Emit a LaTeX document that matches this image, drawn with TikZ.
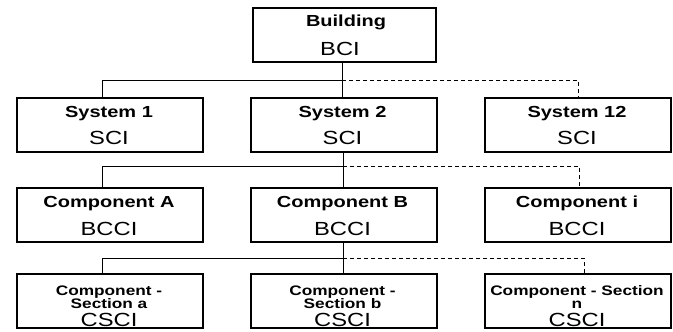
\documentclass[tikz,border=0pt]{standalone}
\usepackage{fontspec}
\setmainfont[FakeStretch=1.25]{Liberation Sans}
\begin{document}
\begin{tikzpicture}[x=1pt,y=-1pt,
  box/.style={draw,line width=1.6pt,minimum width=186pt,minimum height=54pt,inner sep=0pt,anchor=north west},
  conn/.style={line width=0.8pt},
  dconn/.style={line width=0.8pt,dashed,dash pattern=on 4pt off 3pt},
  tA/.style={anchor=base,inner sep=0pt,font=\fontsize{16}{16}\selectfont\bfseries},
  tB/.style={anchor=base,inner sep=0pt,font=\fontsize{19}{19}\selectfont},
  tS/.style={anchor=base,inner sep=0pt,font=\fontsize{13.8}{13.8}\selectfont\bfseries}]
\useasboundingbox (0,0) rectangle (673,332);
% boxes
\node[box,minimum width=183pt] (bld) at (252,7) {};
\node[box] (s1) at (16,97) {};
\node[box] (s2) at (250,97) {};
\node[box] (s12) at (484,97) {};
\node[box] (ca) at (16,187) {};
\node[box] (cb) at (250,187) {};
\node[box] (ci) at (484,187) {};
\node[box] (sa) at (16,273) {};
\node[box] (sb) at (250,273) {};
\node[box] (sn) at (484,273) {};
% texts
\node[tA] (bldt) at (346,27) {Building};
\node[tB] (bldc) at (340,55) {BCI};
\node[tA] (s1t) at (109,117) {System 1};
\node[tB] (s1c) at (109,144.5) {SCI};
\node[tA] (s2t) at (342.5,117) {System 2};
\node[tB] (s2c) at (342.5,144.5) {SCI};
\node[tA] (s12t) at (577,117) {System 12};
\node[tB] (s12c) at (577,144.5) {SCI};
\node[tA] (cat) at (109,207) {Component A};
\node[tB] (cac) at (109,235) {BCCI};
\node[tA] (cbt) at (342.5,207) {Component B};
\node[tB] (cbc) at (342.5,235) {BCCI};
\node[tA] (cit) at (577,207) {Component i};
\node[tB] (cic) at (577,235) {BCCI};
\node[tS] (sat) at (109,295) {Component -};
\node[tS] (sat2) at (109,308) {Section a};
\node[tB] (sac) at (109,326) {CSCI};
\node[tS] (sbt) at (342.5,295) {Component -};
\node[tS] (sbt2) at (342.5,308) {Section b};
\node[tB] (sbc) at (342.5,326) {CSCI};
\node[tS] (snt) at (577,295) {Component - Section};
\node[tS] (snt2) at (577,308) {n};
\node[tB] (snc) at (577,326) {CSCI};
% junctions
\coordinate (j1) at (342,80); \coordinate (l1) at (102,80); \coordinate (r1) at (578,80);
\coordinate (j2) at (343,166); \coordinate (l2) at (102,166); \coordinate (r2) at (579,166);
\coordinate (j3) at (343,258); \coordinate (l3) at (102,258); \coordinate (r3) at (584,258);
% level 1
\draw[conn] (bld.south -| j1) -- (s2.north -| j1);
\draw[conn] (s1.north -| l1) -- (l1) -- (j1);
\draw[dconn] (j1) -- (r1) -- (s12.north -| r1);
% level 2
\draw[conn] (s2.south -| j2) -- (cb.north -| j2);
\draw[conn] (ca.north -| l2) -- (l2) -- (j2);
\draw[dconn] (j2) -- (r2) -- (ci.north -| r2);
% level 3
\draw[conn] (cb.south -| j3) -- (sb.north -| j3);
\draw[conn] (sa.north -| l3) -- (l3) -- (j3);
\draw[dconn] (j3) -- (r3) -- (sn.north -| r3);
\end{tikzpicture}
\end{document}
